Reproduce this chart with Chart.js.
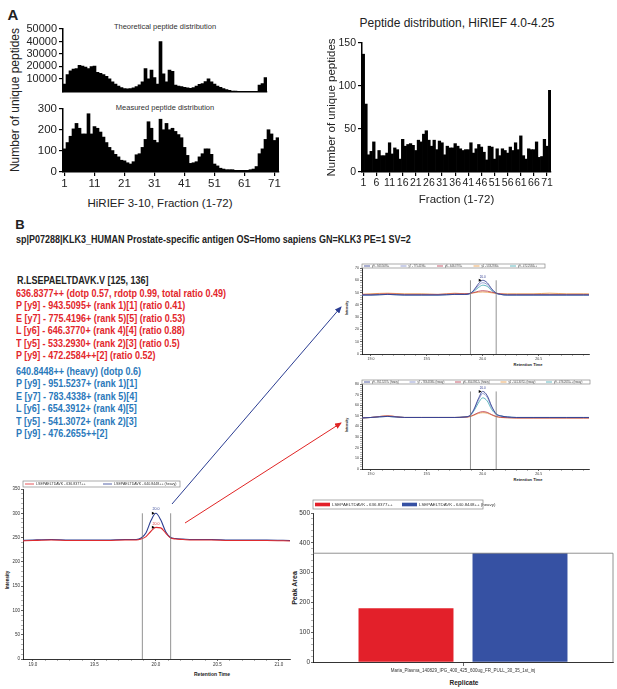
<!DOCTYPE html>
<html>
<head>
<meta charset="utf-8">
<script src="https://cdn.jsdelivr.net/npm/chart.js"></script>
<style>
  body { margin: 0; background: #fff; }
  #page { position: relative; width: 617px; height: 689px; overflow: hidden; font-family: "Liberation Sans", Arial, sans-serif; color: #222; }
  canvas { position: absolute; }
  .t { position: absolute; white-space: nowrap; transform: translate(-50%, -50%); }
  .rot { position: absolute; white-space: nowrap; transform: translate(-50%, -50%) rotate(-90deg); }
  .pep { position: absolute; left: 16px; white-space: nowrap; font-family: "Liberation Sans", Arial, sans-serif; font-weight: bold; font-size: 10px; line-height: 12.4px; transform: scaleX(0.9); transform-origin: 0 0; }
</style>
</head>
<body>
<div id="page">
  <div class="t" style="left:13px;top:14px;font-weight:bold;font-size:15px">A</div>
  <div class="t" style="left:165px;top:26px;font-size:7.5px;color:#333">Theoretical peptide distribution</div>
  <div class="t" style="left:165px;top:107px;font-size:7.5px;color:#333">Measured peptide distribution</div>
  <div class="rot" style="left:15px;top:100px;font-size:12px">Number of unique peptides</div>
  <div class="t" style="left:160px;top:203px;font-size:11.5px">HiRIEF 3-10, Fraction (1-72)</div>
  <div class="t" style="left:457px;top:23px;font-size:12px">Peptide distribution, HiRIEF 4.0-4.25</div>

  <div class="t" style="left:20px;top:224px;font-weight:bold;font-size:13px">B</div>
  <div class="pep" style="top:234px;color:#222">sp|P07288|KLK3_HUMAN Prostate-specific antigen OS=Homo sapiens GN=KLK3 PE=1 SV=2</div>
  <div class="pep" style="top:275px;left:17px;color:#222">R.LSEPAELTDAVK.V [125, 136]</div>
  <div class="pep" id="redText" style="top:288px;color:#e3262b"></div>
  <div class="pep" id="blueText" style="top:366px;color:#2a79bb"></div>

  <div class="rot" style="left:347px;top:308px;font-size:3.5px;font-weight:bold">Intensity</div>
  <div class="t" style="left:528px;top:364px;font-size:4px;font-weight:bold">Retention Time</div>
  <div class="rot" style="left:347px;top:425px;font-size:3.5px;font-weight:bold">Intensity</div>
  <div class="t" style="left:528px;top:479px;font-size:4px;font-weight:bold">Retention Time</div>
  <div class="rot" style="left:7px;top:580px;font-size:4.5px;font-weight:bold">Intensity</div>
  <div class="t" style="left:212px;top:674px;font-size:5px;font-weight:bold">Retention Time</div>
  <div class="rot" style="left:294px;top:588px;font-size:7px;font-weight:bold">Peak Area</div>
  <div class="t" style="left:464px;top:682px;font-size:6.5px;font-weight:bold">Replicate</div>
</div>
<script>
const F = '"Liberation Sans", Arial, sans-serif';
Chart.defaults.font.family = F;
Chart.defaults.color = '#222';
Chart.defaults.animation = false;
Chart.defaults.responsive = false;
Chart.defaults.plugins.legend.display = false;
Chart.defaults.plugins.tooltip.enabled = false;

// ---- panel A data ----
const fractions = Array.from({ length: 72 }, (_, i) => i + 1);
const theoreticalFractions = fractions.slice(0, 68);
const theoretical = [5800, 13500, 16500, 17800, 18300, 20800, 20300, 19500, 18300, 19800,
  20300, 15200, 14500, 13500, 12000, 10000, 7600, 5800, 4300, 3000,
  2300, 2000, 2300, 2800, 3800, 5300, 7600, 18300, 10000, 17000,
  11000, 5800, 40000, 14000, 7600, 17000, 16000, 5000, 4300, 3800,
  3300, 2800, 2500, 3000, 4300, 5600, 6300, 7900, 10000, 7600,
  5800, 4300, 3300, 2300, 1500, 800, 300, 200, 150, 100,
  100, 100, 100, 100, 100, 5000, 6300, 11000];
const measured = [110, 140, 170, 205, 231, 208, 181, 181, 277, 181,
  216, 208, 190, 166, 140, 117, 102, 84, 72, 56,
  53, 44, 38, 49, 82, 87, 117, 155, 239, 208,
  151, 140, 251, 201, 231, 201, 208, 193, 178, 163,
  117, 79, 41, 44, 49, 72, 87, 110, 110, 84,
  38, 29, 18, 14, 11, 11, 11, 8, 8, 8,
  8, 8, 11, 14, 26, 87, 110, 155, 201, 181,
  150, 163];
const narrowRange = [137, 79, 20, 24, 35, 15, 25, 19, 19, 22,
  34, 21, 28, 26, 15, 38, 30, 32, 33, 31,
  25, 37, 35, 44, 48, 37, 30, 37, 26, 36,
  34, 20, 30, 28, 28, 33, 30, 27, 25, 26,
  26, 34, 22, 27, 32, 29, 23, 14, 30, 29,
  15, 27, 19, 27, 25, 22, 29, 25, 34, 26,
  42, 19, 15, 27, 26, 26, 35, 17, 18, 38,
  30, 95];

// ---- panel B data ----
const redLines = ['636.8377++ (dotp 0.57, rdotp 0.99, total ratio 0.49)',
  'P [y9] - 943.5095+ (rank 1)[1] (ratio 0.41)',
  'E [y7] - 775.4196+ (rank 5)[5] (ratio 0.53)',
  'L [y6] - 646.3770+ (rank 4)[4] (ratio 0.88)',
  'T [y5] - 533.2930+ (rank 2)[3] (ratio 0.5)',
  'P [y9] - 472.2584++[2] (ratio 0.52)'];
const blueLines = ['640.8448++ (heavy) (dotp 0.6)',
  'P [y9] - 951.5237+ (rank 1)[1]',
  'E [y7] - 783.4338+ (rank 5)[4]',
  'L [y6] - 654.3912+ (rank 4)[5]',
  'T [y5] - 541.3072+ (rank 2)[3]',
  'P [y9] - 476.2655++[2]'];

const rt = [18.9, 19.0, 19.15, 19.3, 19.45, 19.6, 19.75, 19.84, 19.88, 19.92, 19.96, 20.0,
  20.04, 20.08, 20.12, 20.16, 20.22, 20.3, 20.45, 20.6, 20.75, 20.9, 21.1];
const rtTicks = [19.0, 19.5, 20.0, 20.5, 21.0];
const peakBounds = [19.89, 20.12];

const precursorLabels = ['LSEPAELTDAVK - 636.8377++', 'LSEPAELTDAVK - 640.8448++ (heavy)'];
const xicLight = [243, 244, 245, 244, 244, 244, 245, 245, 247, 252, 263, 271, 270, 259, 249, 247, 246, 245, 245, 244, 244, 244, 243];
const xicHeavy = [244, 245, 246, 245, 245, 245, 246, 246, 249, 260, 285, 300, 286, 262, 250, 248, 247, 246, 246, 245, 245, 245, 244];

const fragLabelsA = ['y9 - 943.5095+', 'y7 - 775.4196+', 'y6 - 646.3770+', 'y5 - 533.2930+', 'y9 - 472.2584++'];
const fragA = [
  [48, 48, 48.5, 48, 48, 48, 48.5, 48.5, 49, 52, 57, 60, 58, 53, 49.5, 48.5, 48, 48, 48, 48, 48, 48, 48],
  [48, 48, 48.5, 48, 48, 48, 48.5, 48.5, 49, 51.5, 55.5, 58, 56.5, 52.5, 49.5, 48.5, 48, 48, 48, 48, 48, 48, 48],
  [48.5, 48.5, 49, 48.5, 48.5, 48.5, 49, 49, 49.2, 50, 51, 51.5, 51.2, 50.3, 49.5, 49, 48.5, 48.5, 48.5, 48.5, 48.5, 48.5, 48.5],
  [48.5, 49, 49.5, 49, 49, 48.5, 49.5, 49, 49.3, 49.8, 50.3, 50.5, 50.3, 49.8, 49.4, 49, 49, 49, 49, 49.5, 49, 49, 48.5],
  [48, 48, 48.5, 48, 48, 48, 48.5, 48.5, 49, 51, 54, 56, 55, 51.5, 49.5, 48.5, 48, 48, 48, 48, 48, 48, 48]];
const fragLabelsB = ['y9 - 951.5237+ (heavy)', 'y7 - 783.4338+ (heavy)', 'y6 - 654.3912+ (heavy)', 'y5 - 541.3072+ (heavy)', 'y9 - 476.2655++ (heavy)'];
const fragB = [
  [48, 48.5, 49.5, 48.5, 48.5, 48.5, 48.5, 49, 50, 56, 66, 73, 69, 59, 52, 50, 49, 48.5, 48.5, 48.5, 48.5, 48.5, 48.5],
  [48, 48.5, 49.5, 48.5, 48.5, 48.5, 48.5, 49, 50, 55.5, 64.5, 71, 67.5, 58, 51.5, 50, 49, 48.5, 48.5, 48.5, 48.5, 48.5, 48.5],
  [48, 48.5, 50, 48.5, 48.5, 48.5, 48.5, 48.8, 49.3, 51, 53, 54, 53.3, 51.2, 49.5, 48.7, 48.3, 48, 48, 48, 48, 48, 48],
  [48, 48.5, 50, 48.5, 48.5, 48.5, 48.5, 48.8, 49.2, 50.5, 52.3, 53, 52.5, 50.8, 49.2, 48.5, 48.2, 48, 48, 48, 48, 48, 48],
  [48, 48.5, 49.5, 48.5, 48.5, 48.5, 48.5, 49, 49.8, 54.5, 62, 67, 64, 56, 51.5, 50, 49, 48.5, 48.5, 48.5, 48.5, 48.5, 48.5]];
const fragColors = ['#26348c', '#7a86c8', '#b8334a', '#e8963a', '#3aa6b0'];

const replicates = ['Maria_Plasma_140829_IPG_400_425_600ug_FR_PULL_30_35_1st_inj'];
const peakAreaLight = [180];
const peakAreaHeavy = [365];

document.getElementById('redText').innerHTML = redLines.join('<br>');
document.getElementById('blueText').innerHTML = blueLines.join('<br>');

// ---- helpers ----
function mk(left, top, w, h) {
  const c = document.createElement('canvas');
  c.width = w; c.height = h;
  c.style.left = left + 'px'; c.style.top = top + 'px';
  document.getElementById('page').appendChild(c);
  return c;
}
function isMajor(v, step) { return Math.abs(v / step - Math.round(v / step)) < 1e-6; }

// GraphPad style axes (panel A)
function yAx(w, max, step, size, extra) {
  return Object.assign({
    min: 0, max: max, afterFit: s => { s.width = w; },
    border: { color: '#000', width: 1.5 },
    grid: { drawOnChartArea: false, color: '#000', tickLength: 4, lineWidth: 1.2 },
    ticks: { stepSize: step, font: { size: size }, color: '#222', padding: 2 }
  }, extra || {});
}
function xCat(h, every, size) {
  return {
    type: 'category', afterFit: s => { s.height = h; },
    border: { color: '#000', width: 1.5 },
    grid: { drawOnChartArea: false, offset: false, color: '#000', tickLength: 4, lineWidth: 1.2 },
    ticks: {
      display: every > 0, autoSkip: false, maxRotation: 0, font: { size: size }, color: '#222', padding: 1,
      callback: function (v, i) { return i % every === 0 ? this.getLabelForValue(v) : null; }
    }
  };
}

// Skyline style axes (panel B) with thin minor ticks
function ySky(w, max, step, size) {
  const minor = step / 5;
  return {
    min: 0, max: max, afterFit: s => { s.width = w; },
    afterBuildTicks: s => {
      const t = [];
      for (let v = 0; v <= max + 1e-9; v += minor) t.push({ value: Math.round(v * 1000) / 1000 });
      s.ticks = t;
    },
    border: { color: '#000', width: 0.8 },
    grid: { drawOnChartArea: false, color: '#000', tickLength: 2, lineWidth: c => (c.tick && isMajor(c.tick.value, step) ? 0.6 : 0.3) },
    ticks: { autoSkip: false, font: { size: size }, color: '#333', padding: 1, callback: v => (isMajor(v, step) ? v : '') }
  };
}
function xRt(h, min, max, size) {
  return {
    type: 'linear', min: min, max: max, afterFit: s => { s.height = h; },
    afterBuildTicks: s => {
      const t = [];
      for (let v = 18.9; v <= 21.1 + 1e-9; v += 0.1) {
        const r = Math.round(v * 10) / 10;
        if (r >= min && r <= max) t.push({ value: r });
      }
      s.ticks = t;
    },
    border: { color: '#000', width: 0.8 },
    grid: { drawOnChartArea: false, color: '#000', tickLength: 2, lineWidth: c => (c.tick && rtTicks.includes(c.tick.value) ? 0.6 : 0.3) },
    ticks: { autoSkip: false, maxRotation: 0, minRotation: 0, font: { size: size }, color: '#333', padding: 1, callback: v => (rtTicks.includes(v) ? v.toFixed(1) : '') }
  };
}
function barSet(data) {
  return { data: data, backgroundColor: '#000', borderWidth: 0, barPercentage: 1, categoryPercentage: 1 };
}

// framed legend drawn above the plot, Skyline style
const boxLegend = {
  id: 'boxLegend',
  afterDraw(chart, args, o) {
    if (!o.w) return;
    const ctx = chart.ctx, a = chart.chartArea;
    const x0 = a.left + (o.dx || 0), y0 = a.top + o.dy, h = o.h;
    ctx.save();
    ctx.fillStyle = '#fff';
    ctx.fillRect(x0, y0, o.w, h);
    ctx.font = o.size + 'px ' + F;
    ctx.textBaseline = 'middle';
    let x = x0 + 2;
    chart.data.datasets.forEach(ds => {
      if (o.rect) {
        ctx.fillStyle = ds.backgroundColor;
        ctx.fillRect(x, y0 + h * 0.3, o.sw, h * 0.4);
      } else {
        ctx.strokeStyle = ds.borderColor; ctx.lineWidth = 0.8;
        ctx.beginPath(); ctx.moveTo(x, y0 + h / 2); ctx.lineTo(x + o.sw, y0 + h / 2); ctx.stroke();
      }
      ctx.fillStyle = '#333';
      ctx.fillText(ds.label, x + o.sw + 2, y0 + h / 2 + 0.3);
      x += o.item;
    });
    ctx.strokeStyle = '#888'; ctx.lineWidth = 0.7;
    ctx.strokeRect(x0, y0, o.w, h);
    ctx.restore();
  }
};

// integration boundaries and apex labels (datasets flagged with apexLabel)
const peakMarks = {
  id: 'peakMarks',
  afterDatasetsDraw(chart, args, o) {
    const ctx = chart.ctx, xs = chart.scales.x, ys = chart.scales.y;
    const size = o.size || 3;
    let top = 0;
    chart.data.datasets.forEach(ds => ds.data.forEach(p => { top = Math.max(top, p.y); }));
    ctx.save();
    ctx.strokeStyle = '#777'; ctx.lineWidth = 0.8;
    peakBounds.forEach(b => {
      const px = xs.getPixelForValue(b);
      ctx.beginPath(); ctx.moveTo(px, ys.getPixelForValue(top)); ctx.lineTo(px, chart.chartArea.bottom); ctx.stroke();
    });
    ctx.font = size + 'px ' + F;
    ctx.textAlign = 'center';
    ctx.textBaseline = 'bottom';
    chart.data.datasets.forEach(ds => {
      if (!ds.apexLabel) return;
      let k = 0;
      ds.data.forEach((p, j) => { if (p.y > ds.data[k].y) k = j; });
      const px = xs.getPixelForValue(ds.data[k].x), py = ys.getPixelForValue(ds.data[k].y);
      ctx.fillStyle = '#000';
      ctx.beginPath(); ctx.moveTo(px - 4, py - 1.5); ctx.lineTo(px - 1, py); ctx.lineTo(px - 4, py + 1.5); ctx.closePath(); ctx.fill();
      ctx.fillStyle = ds.borderColor;
      ctx.fillText(ds.data[k].x.toFixed(1), px, py - 2);
    });
    ctx.restore();
  }
};

// frame line at the top of the tallest bar, as in the Skyline export
const areaFrame = {
  id: 'areaFrame',
  afterDatasetsDraw(chart) {
    const ctx = chart.ctx, a = chart.chartArea, ys = chart.scales.y;
    let top = 0;
    chart.data.datasets.forEach(ds => ds.data.forEach(v => { top = Math.max(top, v); }));
    const py = ys.getPixelForValue(top);
    ctx.save();
    ctx.strokeStyle = '#777'; ctx.lineWidth = 0.8;
    ctx.beginPath(); ctx.moveTo(a.left, py); ctx.lineTo(a.right, py); ctx.lineTo(a.right, a.bottom); ctx.stroke();
    ctx.restore();
  }
};

// ---- panel A charts ----
new Chart(mk(0, 0, 270, 100), {
  type: 'bar',
  data: { labels: theoreticalFractions, datasets: [barSet(theoretical)] },
  options: {
    layout: { padding: { top: 29, right: 3 } },
    scales: {
      x: xCat(5, 0, 11),
      y: yAx(63, 50000, 10000, 11, { ticks: { stepSize: 10000, font: { size: 11 }, color: '#222', padding: 2, callback: v => v === 0 ? null : v } })
    }
  }
});

new Chart(mk(0, 100, 290, 112), {
  type: 'bar',
  data: { labels: fractions, datasets: [barSet(measured)] },
  options: {
    layout: { padding: { top: 7, right: 11 } },
    scales: { x: xCat(40, 10, 11.5), y: yAx(63, 300, 100, 11.5) }
  }
});

new Chart(mk(300, 0, 317, 212), {
  type: 'bar',
  data: { labels: fractions, datasets: [barSet(narrowRange)] },
  options: {
    layout: { padding: { top: 43, right: 66 } },
    scales: {
      x: Object.assign(xCat(40, 5, 10.5), { title: { display: true, text: 'Fraction (1-72)', font: { size: 11.5 }, padding: { top: 0, bottom: 5 } } }),
      y: yAx(62, 150, 50, 10.5, { title: { display: true, text: 'Number of unique peptides', font: { size: 11.5 }, padding: { top: 25, bottom: 0 } } })
    }
  }
});

// ---- panel B charts ----
function fragChart(left, top, h, labels, series, ymax, legendW, legendItem) {
  return new Chart(mk(left, top, 277, h), {
    type: 'line',
    data: {
      datasets: series.map((s, i) => ({
        label: labels[i], data: s.map((v, j) => ({ x: rt[j], y: v })),
        borderColor: fragColors[i], borderWidth: 0.8, pointRadius: 0,
        cubicInterpolationMode: 'monotone', apexLabel: i === 0
      }))
    },
    options: {
      layout: { padding: { top: 10, right: 28 } },
      scales: { x: xRt(10, 18.92, 20.95, 3.5), y: ySky(22, ymax, 10, 3.5) },
      plugins: {
        boxLegend: { dx: 0, dy: -4, h: 4, w: legendW, item: legendItem, sw: 6, size: 2.6 },
        peakMarks: { size: 3 }
      }
    },
    plugins: [boxLegend, peakMarks]
  });
}
fragChart(340, 258, 106, fragLabelsA, fragA, 70, 183, 36.5);
fragChart(340, 374, 105, fragLabelsB, fragB, 80, 228, 45.5);

new Chart(mk(0, 478, 300, 200), {
  type: 'line',
  data: {
    datasets: [
      { label: precursorLabels[0], data: xicLight.map((v, j) => ({ x: rt[j], y: v })), borderColor: '#de2a2f', borderWidth: 1.1, pointRadius: 0, cubicInterpolationMode: 'monotone', apexLabel: true },
      { label: precursorLabels[1], data: xicHeavy.map((v, j) => ({ x: rt[j], y: v })), borderColor: '#2b3d92', borderWidth: 1.1, pointRadius: 0, cubicInterpolationMode: 'monotone', apexLabel: true }
    ]
  },
  options: {
    layout: { padding: { top: 11, right: 10 } },
    scales: { x: xRt(19, 18.92, 21.09, 4.5), y: ySky(23, 350, 50, 4.5) },
    plugins: {
      boxLegend: { dx: 0, dy: -8, h: 6, w: 157, item: 78, sw: 9, size: 3.6 },
      peakMarks: { size: 3.6 }
    }
  },
  plugins: [boxLegend, peakMarks]
});

new Chart(mk(295, 495, 322, 194), {
  type: 'bar',
  data: {
    labels: replicates,
    datasets: [
      { label: precursorLabels[0], data: peakAreaLight, backgroundColor: '#e3202a', borderWidth: 0, categoryPercentage: 0.76, barPercentage: 0.833 },
      { label: precursorLabels[1], data: peakAreaHeavy, backgroundColor: '#3651a3', borderWidth: 0, categoryPercentage: 0.76, barPercentage: 0.833 }
    ]
  },
  options: {
    layout: { padding: { top: 18, right: 4 } },
    scales: {
      x: {
        type: 'category', afterFit: s => { s.height = 27; },
        border: { color: '#000', width: 0.8 },
        grid: { drawOnChartArea: false, offset: false, color: '#000', tickLength: 4, lineWidth: 0.6 },
        ticks: { font: { size: 4.5 }, color: '#333', padding: 2, maxRotation: 0 }
      },
      y: ySky(18, 500, 100, 6.5)
    },
    plugins: { boxLegend: { dx: 0, dy: -13, h: 9, w: 170, item: 87, sw: 15, size: 4.4, rect: true } }
  },
  plugins: [boxLegend, areaFrame]
});
</script>
<svg width="617" height="689" style="position:absolute;left:0;top:0;pointer-events:none">
  <defs>
    <marker id="ab" markerWidth="7" markerHeight="6" refX="6" refY="3" orient="auto"><path d="M0,0 L7,3 L0,6 z" fill="#2b3d92"/></marker>
    <marker id="ar" markerWidth="7" markerHeight="6" refX="6" refY="3" orient="auto"><path d="M0,0 L7,3 L0,6 z" fill="#e02424"/></marker>
  </defs>
  <line x1="172" y1="504" x2="341" y2="307" stroke="#2b3d92" stroke-width="1" marker-end="url(#ab)"/>
  <line x1="185" y1="523" x2="341" y2="423" stroke="#e02424" stroke-width="1" marker-end="url(#ar)"/>
</svg>
</body>
</html>
